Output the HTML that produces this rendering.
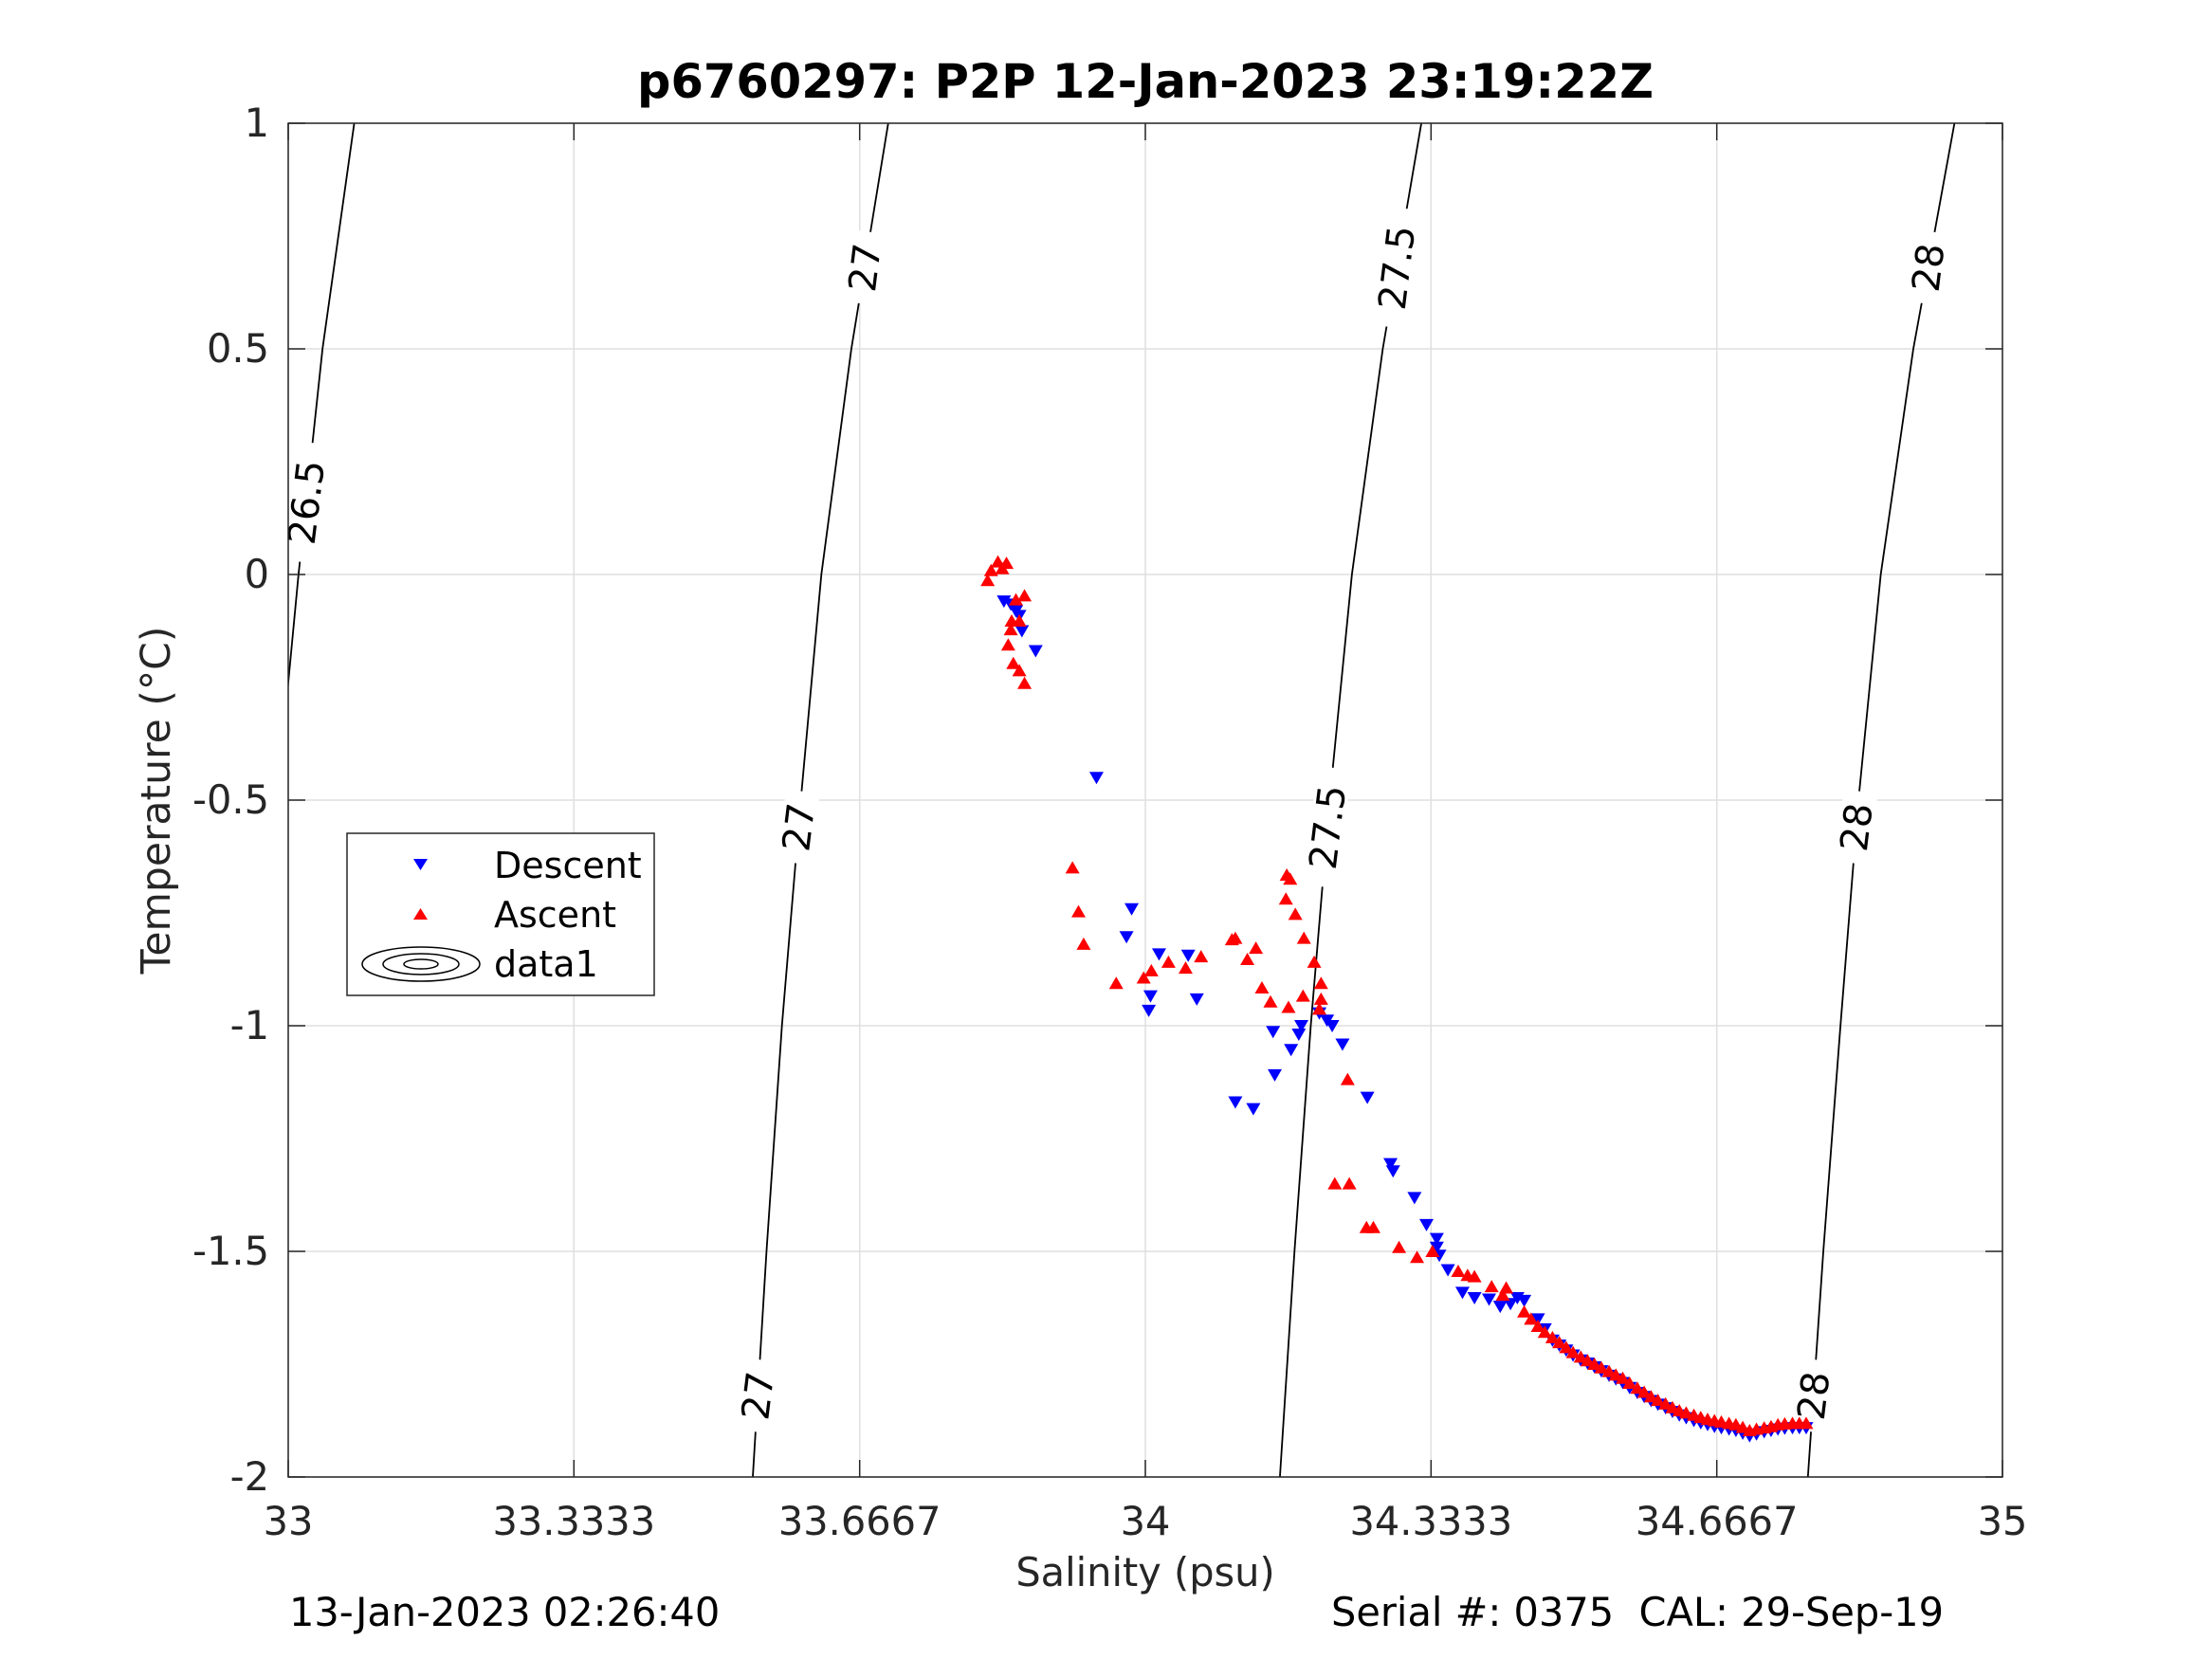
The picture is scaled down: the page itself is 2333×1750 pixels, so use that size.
<!DOCTYPE html>
<html><head><meta charset="utf-8"><style>
html,body{margin:0;padding:0;background:#fff;}
svg{display:block;font-family:"DejaVu Sans","Liberation Sans",sans-serif;}
</style></head><body>
<svg id="chart" width="2333" height="1750" viewBox="0 0 2333 1750" xmlns="http://www.w3.org/2000/svg">
<defs><clipPath id="plotclip"><rect x="304" y="130" width="1808" height="1428"/></clipPath></defs>
<rect x="304" y="130" width="1808" height="1428" fill="#fff"/>
<g id="grid"></g>
<g id="contours" clip-path="url(#plotclip)"></g>
<g id="marks"></g>
<g id="axes"></g>
<text x="1208" y="103" text-anchor="middle" font-size="49.5" font-weight="bold" fill="#000">p6760297: P2P 12-Jan-2023 23:19:22Z</text>
<text x="1208" y="1673" text-anchor="middle" font-size="41.5" fill="#262626">Salinity (psu)</text>
<text x="0" y="0" transform="translate(179,844) rotate(-90)" text-anchor="middle" font-size="42.5" fill="#262626">Temperature (°C)</text>
<text x="305" y="1715" font-size="41.5" fill="#000">13-Jan-2023 02:26:40</text>
<text x="2050" y="1715" text-anchor="end" font-size="41.5" fill="#000" xml:space="preserve">Serial #: 0375  CAL: 29-Sep-19</text>
<g>
<rect x="366" y="879" width="324" height="171" fill="#fff" stroke="#262626" stroke-width="1.5"/>
<path d="M436,906 L451,906 L443.5,918 Z" fill="#0000ff"/>
<text x="521" y="926" font-size="38" fill="#000">Descent</text>
<path d="M436,970 L451,970 L443.5,958 Z" fill="#ff0000"/>
<text x="521" y="978" font-size="38" fill="#000">Ascent</text>
<g fill="none" stroke="#000" stroke-width="1.5">
<ellipse cx="444" cy="1017" rx="62" ry="18"/><ellipse cx="444" cy="1017" rx="40" ry="11"/><ellipse cx="444" cy="1017" rx="18" ry="5"/></g>
<text x="521" y="1030" font-size="38" fill="#000">data1</text>
</g>
</svg>
<script>
// ---- data ----
const xTicks = [33, 33.3333, 33.6667, 34, 34.3333, 34.6667, 35];
const xTickLabels = ["33","33.3333","33.6667","34","34.3333","34.6667","35"];
const yTicks = [1, 0.5, 0, -0.5, -1, -1.5, -2];
const yTickLabels = ["1","0.5","0","-0.5","-1","-1.5","-2"];

const descentS = [33.835,33.843,33.849,33.853,33.856,33.872,33.943,33.984,33.978,34.016,34.006,34.004,34.050,34.060,34.105,34.126,34.149,34.151,34.170,34.179,34.182,34.203,34.212,34.218,34.230,34.259,34.286,34.289,34.314,34.328,34.340,34.340,34.343,34.353,34.370,34.384,34.401,34.414,34.426,34.434,34.442,34.458,34.466,34.475,34.491,34.508,34.524,34.541,34.557,34.574,34.590,34.607,34.623,34.640,34.656,34.672,34.689,34.705,34.722,34.738,34.755,34.771,
34.483,34.499,34.516,34.532,34.549,34.565,34.582,34.598,34.615,34.631,34.648,34.664,34.681,34.697,34.713,34.730,34.746,34.763];
const descentT = [-0.059,-0.066,-0.081,-0.091,-0.125,-0.169,-0.45,-0.741,-0.803,-0.841,-0.934,-0.966,-0.844,-0.941,-1.169,-1.184,-1.013,-1.109,-1.053,-1.019,-1.0,-0.972,-0.988,-1.0,-1.041,-1.159,-1.306,-1.322,-1.381,-1.441,-1.472,-1.491,-1.509,-1.541,-1.591,-1.603,-1.606,-1.622,-1.616,-1.603,-1.609,-1.65,-1.672,-1.697,-1.719,-1.741,-1.756,-1.775,-1.791,-1.813,-1.831,-1.847,-1.863,-1.875,-1.884,-1.891,-1.897,-1.909,-1.9,-1.894,-1.891,-1.891,
-1.708,-1.730,-1.748,-1.765,-1.783,-1.802,-1.822,-1.839,-1.855,-1.869,-1.880,-1.888,-1.894,-1.903,-1.905,-1.897,-1.892,-1.891];

const ascentS = [33.816,33.820,33.828,33.838,33.833,33.849,33.859,33.844,33.843,33.853,33.840,33.846,33.853,33.859,33.915,33.922,33.928,33.966,33.998,34.007,34.027,34.047,34.065,34.101,34.105,34.119,34.129,34.136,34.146,34.165,34.169,34.164,34.175,34.185,34.197,34.205,34.205,34.203,34.167,34.184,34.236,34.221,34.238,34.258,34.266,34.296,34.317,34.335,34.365,34.376,34.384,34.404,34.417,34.421,34.442,34.458,34.475,34.491,34.508,34.524,34.541,34.557,34.574,34.590,34.607,34.623,34.640,34.656,34.672,34.689,34.705,34.722,34.738,34.755,34.771,
34.450,34.466,34.483,34.499,34.516,34.532,34.549,34.565,34.582,34.598,34.615,34.631,34.648,34.664,34.681,34.697,34.713,34.730,34.746,34.763];
const ascentT = [-0.013,0.009,0.028,0.025,0.013,-0.056,-0.047,-0.103,-0.122,-0.103,-0.156,-0.197,-0.213,-0.241,-0.65,-0.747,-0.819,-0.906,-0.894,-0.878,-0.859,-0.872,-0.847,-0.809,-0.806,-0.853,-0.828,-0.916,-0.947,-0.666,-0.675,-0.719,-0.753,-0.806,-0.859,-0.906,-0.941,-0.963,-0.959,-0.934,-1.119,-1.35,-1.35,-1.447,-1.447,-1.491,-1.513,-1.5,-1.544,-1.553,-1.556,-1.578,-1.597,-1.581,-1.634,-1.666,-1.691,-1.713,-1.734,-1.75,-1.766,-1.781,-1.803,-1.822,-1.838,-1.853,-1.863,-1.872,-1.878,-1.884,-1.897,-1.891,-1.884,-1.881,-1.881,
-1.65,-1.679,-1.702,-1.724,-1.742,-1.758,-1.774,-1.792,-1.812,-1.830,-1.846,-1.858,-1.868,-1.875,-1.881,-1.890,-1.894,-1.888,-1.882,-1.881];

const contourT = [-2,-1.5,-1,-0.5,0,0.5,1];
const contourLevels = ["26.5","27","27.5","28"];
const contour265S = [32.92,32.94,32.962,32.987,33.012,33.040,33.077];
const contour27S = [33.542,33.558,33.576,33.598,33.622,33.657,33.700];
const contour275S = [34.157,34.174,34.193,34.215,34.241,34.277,34.322];
const contour28S = [34.773,34.791,34.811,34.832,34.858,34.896,34.944];
const labelLevel = ["26.5","27","27","27","27.5","27.5","28","28","28"];
const labelT = [0.16,-1.82,-0.56,0.68,-0.56,0.68,-1.82,-0.56,0.68];

// ---- scales ----
const X0=304,X1=2112,Y0=130,Y1=1558;
function sx(s){return X0+(s-33)/2*(X1-X0);}
function sy(t){return Y0+(1-t)/3*(Y1-Y0);}
const NS="http://www.w3.org/2000/svg";
function mk(tag,attrs,parent){const e=document.createElementNS(NS,tag);for(const k in attrs)e.setAttribute(k,attrs[k]);parent.appendChild(e);return e;}

const grid=document.getElementById('grid');
const axes=document.getElementById('axes');
xTicks.forEach((v,i)=>{
  const x=sx(v);
  const g=mk('line',{x1:x,x2:x,y1:Y0,y2:Y1,stroke:'#dfdfdf','stroke-width':1.5},grid);
  
  
  const t1=mk('line',{x1:x,x2:x,y1:Y1,y2:Y1-18,stroke:'#262626','stroke-width':1.5},axes);
  
  
  const t2=mk('line',{x1:x,x2:x,y1:Y0,y2:Y0+18,stroke:'#262626','stroke-width':1.5},axes);
  
  
  const lb=mk('text',{x:x,y:1619,'text-anchor':'middle','font-size':41.5,fill:'#262626'},axes);
  lb.textContent=xTickLabels[i];
  
  
});
yTicks.forEach((v,i)=>{
  const y=sy(v);
  const g=mk('line',{x1:X0,x2:X1,y1:y,y2:y,stroke:'#dfdfdf','stroke-width':1.5},grid);
  
  
  const t1=mk('line',{x1:X0,x2:X0+18,y1:y,y2:y,stroke:'#262626','stroke-width':1.5},axes);
  
  
  const t2=mk('line',{x1:X1,x2:X1-18,y1:y,y2:y,stroke:'#262626','stroke-width':1.5},axes);
  
  
  const lb=mk('text',{x:284,y:y+14,'text-anchor':'end','font-size':41.5,fill:'#262626'},axes);
  lb.textContent=yTickLabels[i];
  
  
});
const frame=mk('rect',{x:X0,y:Y0,width:X1-X0,height:Y1-Y0,fill:'none',stroke:'#262626','stroke-width':1.5},axes);



// contours
const cg=document.getElementById('contours');
const contourS={"26.5":contour265S,"27":contour27S,"27.5":contour275S,"28":contour28S};
function sAt(level,t){const arr=contourS[level];for(let i=0;i<contourT.length-1;i++){if(t>=contourT[i]&&t<=contourT[i+1]){const f=(t-contourT[i])/(contourT[i+1]-contourT[i]);return arr[i]+f*(arr[i+1]-arr[i]);}}return arr[0];}
contourLevels.forEach(lv=>{
  const pts=contourT.map((t,i)=>sx(contourS[lv][i])+','+sy(t)).join(' ');
  const pl=mk('polyline',{points:pts,fill:'none',stroke:'#000','stroke-width':1.8},cg);
  
  
});
labelLevel.forEach((lv,i)=>{
  const t=labelT[i];const x=sx(sAt(lv,t)),y=sy(t);
  const w=lv.length*25+26;
  const bg=mk('rect',{x:-w/2,y:-18,width:w,height:36,fill:'#fff',transform:`translate(${x},${y}) rotate(-83)`},cg);
  
  
  const tx=mk('text',{x:0,y:14,'text-anchor':'middle','font-size':40,fill:'#000',transform:`translate(${x},${y}) rotate(-83)`},cg);
  tx.textContent=lv;
  
  
});

// markers
const mg=document.getElementById('marks');
descentS.forEach((s,i)=>{
  const x=sx(s),y=sy(descentT[i]);
  const p=mk('path',{d:`M${x-7.5},${y-6} L${x+7.5},${y-6} L${x},${y+7} Z`,fill:'#0000ff'},mg);
  
  
});
ascentS.forEach((s,i)=>{
  const x=sx(s),y=sy(ascentT[i]);
  const p=mk('path',{d:`M${x-7.5},${y+6} L${x+7.5},${y+6} L${x},${y-7} Z`,fill:'#ff0000'},mg);
  
  
});
</script>
</body></html>
